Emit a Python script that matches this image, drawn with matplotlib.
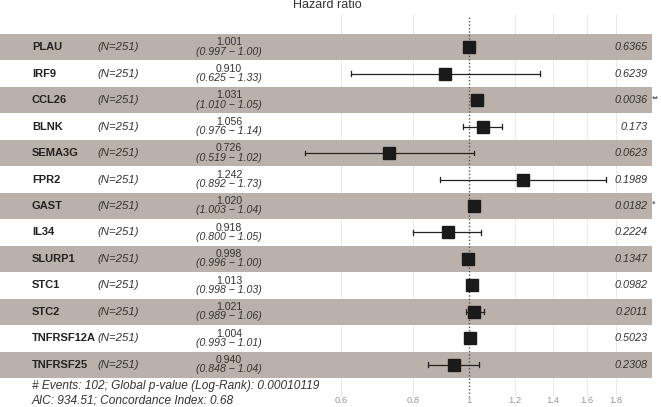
import matplotlib
matplotlib.use("Agg")
import matplotlib.pyplot as plt
import matplotlib.transforms as mtransforms
import numpy as np

plt.rcParams['font.family'] = ['Liberation Sans', 'DejaVu Sans']

genes = ["PLAU", "IRF9", "CCL26", "BLNK", "SEMA3G", "FPR2", "GAST", "IL34",
         "SLURP1", "STC1", "STC2", "TNFRSF12A", "TNFRSF25"]
n_obs = [251] * 13
hr = [1.001, 0.910, 1.031, 1.056, 0.726, 1.242, 1.020, 0.918, 0.998, 1.013, 1.021, 1.004, 0.940]
ci_low = [0.997, 0.625, 1.010, 0.976, 0.519, 0.892, 1.003, 0.800, 0.996, 0.998, 0.989, 0.993, 0.848]
ci_high = [1.00, 1.33, 1.05, 1.14, 1.02, 1.73, 1.04, 1.05, 1.00, 1.03, 1.06, 1.01, 1.04]
pvals = ["0.6365", "0.6239", "0.0036", "0.173", "0.0623", "0.1989", "0.0182",
         "0.2224", "0.1347", "0.0982", "0.2011", "0.5023", "0.2308"]
stars = ["", "", "**", "", "", "", "*", "", "", "", "", "", ""]
x_breaks = [0.6, 0.8, 1, 1.2, 1.4, 1.6, 1.8]
x_break_labels = ["0.6", "0.8", "1", "1.2", "1.4", "1.6", "1.8"]
footer1 = "# Events: 102; Global p-value (Log-Rank): 0.00010119"
footer2 = "AIC: 934.51; Concordance Index: 0.68"

W, H = 661, 407
fig = plt.figure(figsize=(W / 100, H / 100), dpi=100)
ax = fig.add_axes([0, 0, 1, 1])
ax.set_xscale('log')

# pixel mapping
x1px, scale = 469.0, 250.0
ax.set_xlim(np.exp((0 - x1px) / scale), np.exp((W - x1px) / scale))
row_top, row_h = 34.0, 26.46
c0 = row_top + row_h / 2
ax.set_ylim((H - c0) / row_h, (0 - c0) / row_h)
ax.axis('off')

def py(p):
    return (p - c0) / row_h

tr = mtransforms.blended_transform_factory(ax.transAxes, ax.transData)
band = "#BBB1AB"
n = len(genes)
for i in range(n):
    if i % 2 == 0:
        ax.axhspan(i - 0.5, i + 0.5, xmin=0, xmax=652 / W, color=band, lw=0, zorder=1)

# grid
for b in x_breaks:
    if b != 1:
        ax.plot([b, b], [py(14), py(396)], color="#E6E6E6", lw=0.6, zorder=0.5)
ax.plot([1, 1], [py(17), py(396)], color="#555555", lw=1.0, ls=(0, (1, 1.5)), zorder=3)

# error bars and points
cap = 0.09
for i in range(n):
    ax.plot([ci_low[i], ci_high[i]], [i, i], color="#222222", lw=0.9, zorder=4)
    ax.plot([ci_low[i], ci_low[i]], [i - cap, i + cap], color="#222222", lw=0.9, zorder=4)
    ax.plot([ci_high[i], ci_high[i]], [i - cap, i + cap], color="#222222", lw=0.9, zorder=4)
    ax.plot(hr[i], i, marker='s', ms=8.8, color="#1a1a1a", zorder=5, mec="#1a1a1a")

for i in range(n):
    ax.text(32 / W, i, genes[i], transform=tr, fontsize=8.0, fontweight='bold',
            ha='left', va='center', color="#222222", zorder=6)
    ax.text(97 / W, i, f"(N={n_obs[i]})", transform=tr, fontsize=8.2, style='italic',
            ha='left', va='center', color="#333333", zorder=6)
    ax.text(229 / W, i - 0.18, f"{hr[i]:.3f}", transform=tr, fontsize=7.6,
            ha='center', va='center', color="#333333", zorder=6)
    ax.text(229 / W, i + 0.17, f"({ci_low[i]:.3f} \u2212 {ci_high[i]:.2f})", transform=tr,
            fontsize=7.6, style='italic', ha='center', va='center', color="#333333", zorder=6)
    ax.text(648 / W, i, pvals[i], transform=tr, fontsize=7.8, style='italic',
            ha='right', va='center', color="#333333", zorder=6)
    if stars[i]:
        ax.text(652 / W, i - 0.05, stars[i], transform=tr, fontsize=6.5,
                ha='left', va='center', color="#333333", zorder=6)

for b, lab in zip(x_breaks, x_break_labels):
    ax.text(b, py(401), lab, fontsize=6.8, ha='center', va='center', color="#999999")

ax.text(327 / W, py(5), "Hazard ratio", transform=tr, fontsize=9, ha='center',
        va='center', color="#333333")
ax.text(32 / W, py(386), footer1, transform=tr, fontsize=8.6, style='italic',
        ha='left', va='center', color="#333333")
ax.text(32 / W, py(401), footer2, transform=tr, fontsize=8.6, style='italic',
        ha='left', va='center', color="#333333")

fig.savefig("out.png", dpi=100, facecolor="white")
